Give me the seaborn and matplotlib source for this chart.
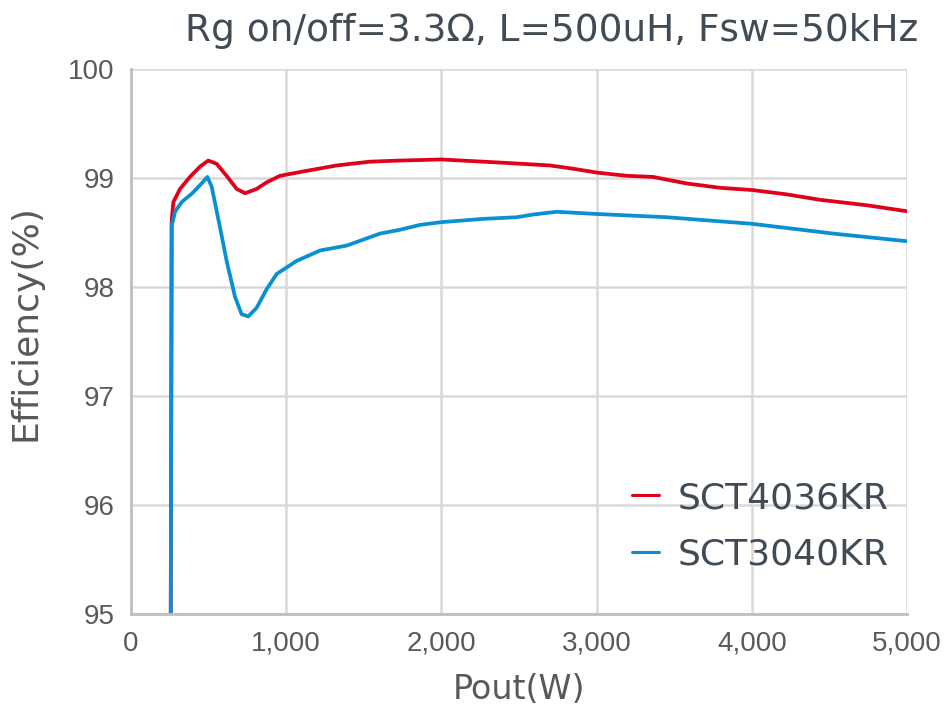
import matplotlib
matplotlib.use("Agg")
import matplotlib.pyplot as plt
import matplotlib.ticker as mticker
from matplotlib.lines import Line2D
import seaborn as sns
import pandas as pd

series_names = ["SCT4036KR", "SCT3040KR"]

red_x = [248, 262, 273, 316, 380, 445, 498, 552, 616, 681, 735, 810, 874, 960, 1110, 1325, 1540, 1733,
         2000, 2399, 2700, 2850, 3000, 3194, 3363, 3580, 3795, 4000, 4225, 4439, 4740, 5000]
red_y = [90.0, 98.61, 98.78, 98.90, 99.01, 99.105, 99.16, 99.13, 99.02, 98.90, 98.86, 98.90, 98.96, 99.02,
         99.06, 99.115, 99.15, 99.16, 99.17, 99.14, 99.115, 99.085, 99.05, 99.02, 99.01, 98.95, 98.91,
         98.89, 98.85, 98.80, 98.75, 98.695]

blue_x = [248, 262, 284, 327, 391, 455, 492, 520, 573, 616, 670, 713, 756, 810, 874, 939, 1068, 1218,
          1390, 1604, 1733, 1862, 2000, 2270, 2485, 2592, 2743, 3000, 3452, 4000, 4525, 5000]
blue_y = [90.0, 98.56, 98.69, 98.78, 98.855, 98.95, 99.01, 98.92, 98.55, 98.24, 97.91, 97.75, 97.73, 97.81,
          97.98, 98.12, 98.24, 98.335, 98.38, 98.49, 98.525, 98.57, 98.595, 98.625, 98.64, 98.665, 98.69,
          98.67, 98.64, 98.58, 98.49, 98.42]

x_ticks = [0, 1000, 2000, 3000, 4000, 5000]
y_ticks = [95, 96, 97, 98, 99, 100]
title_text = "Rg on/off=3.3Ω, L=500uH, Fsw=50kHz"
x_label = "Pout(W)"
y_label = "Efficiency(%)"

df = pd.concat([
    pd.DataFrame({"Pout": red_x, "Eff": red_y, "Device": series_names[0]}),
    pd.DataFrame({"Pout": blue_x, "Eff": blue_y, "Device": series_names[1]}),
], ignore_index=True)

sns.set_style("white")
fig = plt.figure(figsize=(9.44, 7.09), dpi=100)
ax = fig.add_axes([131 / 944, 1 - 614 / 709, (907 - 131) / 944, (614 - 69) / 709])

palette = {series_names[0]: "#e0001b", series_names[1]: "#0a8fd2"}
sns.lineplot(data=df, x="Pout", y="Eff", hue="Device", palette=palette, sort=False,
             estimator=None, linewidth=2.7, ax=ax, legend=False)
for ln in ax.get_lines():
    ln.set_solid_joinstyle("round")
    ln.set_solid_capstyle("round")

ax.set_xlim(0, 5000)
ax.set_ylim(95, 100)
ax.set_xticks(x_ticks)
ax.set_yticks(y_ticks)
ax.xaxis.set_major_formatter(mticker.FuncFormatter(lambda v, p: f"{int(v):,}"))
ax.grid(True, color="#d9d9d9", linewidth=1.8)
ax.set_axisbelow(True)
for s in ["top", "right"]:
    ax.spines[s].set_visible(False)
for s in ["left", "bottom"]:
    ax.spines[s].set_color("#bfbfbf")
    ax.spines[s].set_linewidth(2)
ax.tick_params(axis="both", length=0, labelsize=20, labelcolor="#595959", pad=12)
for lab in ax.get_xticklabels() + ax.get_yticklabels():
    lab.set_fontfamily("Liberation Sans")

ax.set_xlabel(x_label, fontsize=24, color="#595959", family="DejaVu Sans", labelpad=12)
ax.set_ylabel(y_label, fontsize=26, color="#595959", family="DejaVu Sans")
ax.yaxis.set_label_coords(-0.114, 0.535)

handles = [Line2D([], [], color=palette[n], linewidth=2.2) for n in series_names]
leg = fig.legend(handles, series_names, loc="upper left", bbox_to_anchor=(614 / 944, 1 - 463 / 709),
                 frameon=False, borderpad=0, handlelength=0.75, handletextpad=0.5, labelspacing=0.62,
                 prop={"family": "DejaVu Sans", "size": 26})
for t in leg.get_texts():
    t.set_color("#414b55")

fig.text(918 / 944, 1 - 41 / 709, title_text, ha="right", va="baseline", fontsize=27,
         color="#414b55", family="DejaVu Sans")

fig.savefig("out.png", dpi=100)
